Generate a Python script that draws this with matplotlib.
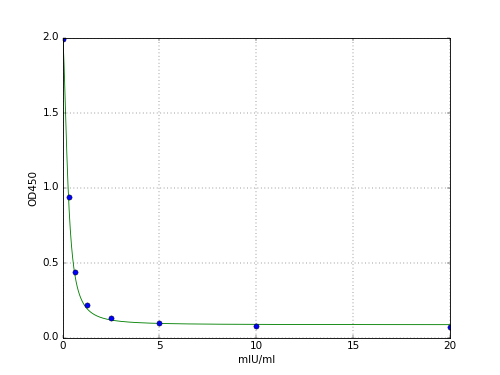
import numpy as np
import matplotlib
matplotlib.use("Agg")
import matplotlib.pyplot as plt

plt.style.use("classic")

# Standard points
conc = [0.0, 0.3125, 0.625, 1.25, 2.5, 5.0, 10.0, 20.0]
od450 = [1.99, 0.935, 0.435, 0.22, 0.13, 0.10, 0.076, 0.07]

# 4PL fit parameters
fit_top = 2.0
fit_bottom = 0.085
fit_ec50 = 0.275
fit_slope = 1.85

x_ticks = [0, 5, 10, 15, 20]
y_ticks = [0.0, 0.5, 1.0, 1.5, 2.0]

fig = plt.figure(figsize=(8, 6), dpi=62.5)
ax = fig.add_subplot(111)

xs = np.linspace(0, max(conc), 1000)
ys = fit_bottom + (fit_top - fit_bottom) / (1 + (xs / fit_ec50) ** fit_slope)
ax.plot(xs, ys, color="g", linewidth=1)
ax.plot(conc, od450, "o", color="b", markersize=6)

ax.set_xlim(0, 20)
ax.set_ylim(0, 2.0)
ax.set_xticks(x_ticks)
ax.set_yticks(y_ticks)
ax.set_xlabel("mIU/ml")
ax.set_ylabel("OD450")
ax.grid(True)

fig.savefig("out.png", dpi=62.5)
